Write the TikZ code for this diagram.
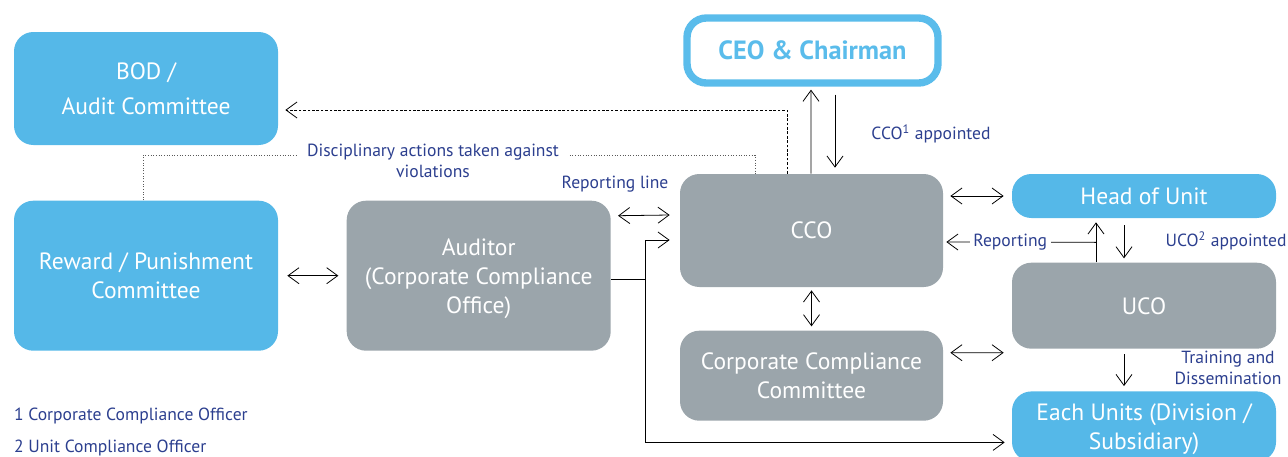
\documentclass[tikz,border=0pt]{standalone}
\usepackage{fontspec}
\setmainfont{PT Sans}
\usepackage{tikz}
\usetikzlibrary{arrows.meta, positioning, calc}
\definecolor{unitblue}{RGB}{85,184,232}
\definecolor{ceoblue}{RGB}{90,188,235}
\definecolor{officegray}{RGB}{155,165,171}
\definecolor{notenavy}{RGB}{44,63,143}
\tikzset{
  bluebox/.style={rectangle, fill=unitblue, text=white, minimum width=5.28cm,
    align=center, rounded corners=11pt, font=\fontsize{13.4}{16.5}\selectfont, inner sep=0pt,
    text depth=0pt},
  graybox/.style={bluebox, fill=officegray},
  ceobox/.style={rectangle, draw=ceoblue, line width=4.2pt, fill=white, text=ceoblue,
    minimum width=5.02cm, minimum height=1.3cm, rounded corners=11pt, text depth=0pt,
    font=\fontsize{15}{18}\selectfont\bfseries},
  note/.style={text=notenavy, font=\fontsize{10}{12}\selectfont, align=center, inner sep=1pt},
  arr/.style={-{Straight Barb[length=2.2mm, width=3.2mm]}, line width=0.45pt},
  dblarr/.style={{Straight Barb[length=2.2mm, width=3.2mm]}-{Straight Barb[length=2.2mm, width=3.2mm]}, line width=0.45pt},
  dasharr/.style={arr, dash pattern=on 1.5pt off 1pt},
  dotline/.style={densely dotted, line width=0.5pt, black!65},
}

\begin{document}
\begin{tikzpicture}
  \useasboundingbox (0,0) rectangle (25.76,-9.12);

  \node[bluebox, minimum height=2.26cm] (bod) at (2.92,-1.77) {BOD /\\[3.5pt] Audit Committee};
  \node[bluebox, minimum height=3cm, below=1.1cm of bod] (reward) {Reward / Punishment\\Committee};
  \node[graybox, minimum height=3cm, right=1.36cm of reward] (auditor) {Auditor\\(Corporate Compliance\\Office)};
  \node[ceobox] (ceo) at (16.25,-1.01) {CEO \& Chairman};
  \node[graybox, minimum width=5.26cm, minimum height=2.26cm] (cco) at (16.23,-4.61) {CCO};
  \node[graybox, minimum width=5.26cm, minimum height=1.8cm, below=0.86cm of cco] (ccc) {Corporate Compliance\\Committee};
  \node[bluebox, minimum height=0.88cm] (head) at (22.88,-3.92) {Head of Unit};
  \node[graybox, minimum height=1.72cm, below=0.88cm of head] (uco) {UCO};
  \node[bluebox, minimum height=1.4cm, below=0.84cm of uco] (units) {Each Units (Division /\\Subsidiary)};

  \draw[arr, shorten >=0.06cm] ([xshift=-0.01cm]cco.north) -- ([xshift=-0.03cm]ceo.south);
  \draw[arr, shorten <=0.16cm, shorten >=0.12cm] ([xshift=0.45cm]ceo.south) -- ([xshift=0.47cm]cco.north);
  \node[note] (lblcco) at (18.62,-2.68) {CCO\textsuperscript{1} appointed};

  \draw[dasharr, shorten >=0.14cm] ([xshift=-0.49cm]cco.north) |- ([yshift=-0.43cm]bod.east);
  \draw[dotline] ([xshift=-0.06cm]reward.north) -- ++(0,0.9) -| ([xshift=-1.13cm]cco.north);
  \node[note, fill=white, inner xsep=5pt] (disc) at (8.66,-3.21) {Disciplinary actions taken against\\violations};

  \draw[dblarr] ($(auditor.east)+(0.14,1.2)$) -- ($(cco.west)+(-0.2,0.31)$);
  \node[note] (lblline) at (12.3,-3.68) {Reporting line};
  \draw[dblarr, shorten <=0.18cm, shorten >=0.16cm] (reward) -- (auditor);

  \coordinate (fork) at ($(auditor.east)+(0.68,-0.08)$);
  \draw[line width=0.45pt] ($(auditor.east)+(0,-0.08)$) -- (fork);
  \draw[arr] (fork) |- ($(cco.west)+(-0.2,-0.19)$);
  \draw[arr] (fork) |- ($(units.west)+(-0.14,-0.32)$);

  \draw[dblarr, shorten <=0.06cm, shorten >=0.08cm] (cco) -- (ccc);
  \draw[dblarr] ($(cco.east)+(0.14,0.69)$) -- ($(head.west)+(-0.16,0)$);
  \draw[dblarr] ($(ccc.east)+(0.14,0.46)$) -- ($(uco.west)+(-0.16,-0.94)$);

  \draw[arr] ($(uco.north)+(-0.96,0)$) -- ($(head.south)+(-0.96,-0.08)$);
  \draw[arr] ($(uco.north)+(-0.96,0.4)$) -- ($(cco.east)+(0.06,-0.23)$)
    node[note, fill=white, pos=0.573, inner xsep=2pt] (lblrep) {Reporting};

  \draw[arr, shorten <=0.14cm, shorten >=0.08cm] ($(head.south)+(-0.4,0)$) -- ($(uco.north)+(-0.4,0)$);
  \node[note] (lbluco) at (24.52,-4.82) {UCO\textsuperscript{2} appointed};
  \draw[arr, shorten <=0.1cm, shorten >=0.1cm] ($(uco.south)+(-0.4,0)$) -- ($(units.north)+(-0.4,0)$);
  \node[note] (lbltrain) at (24.56,-7.36) {Training and\\Dissemination};

  \node[note, anchor=west] (fn1) at (0.24,-8.32) {1 Corporate Compliance Officer};
  \node[note, anchor=west] (fn2) at (0.24,-8.96) {2 Unit Compliance Officer};
\end{tikzpicture}
\end{document}
